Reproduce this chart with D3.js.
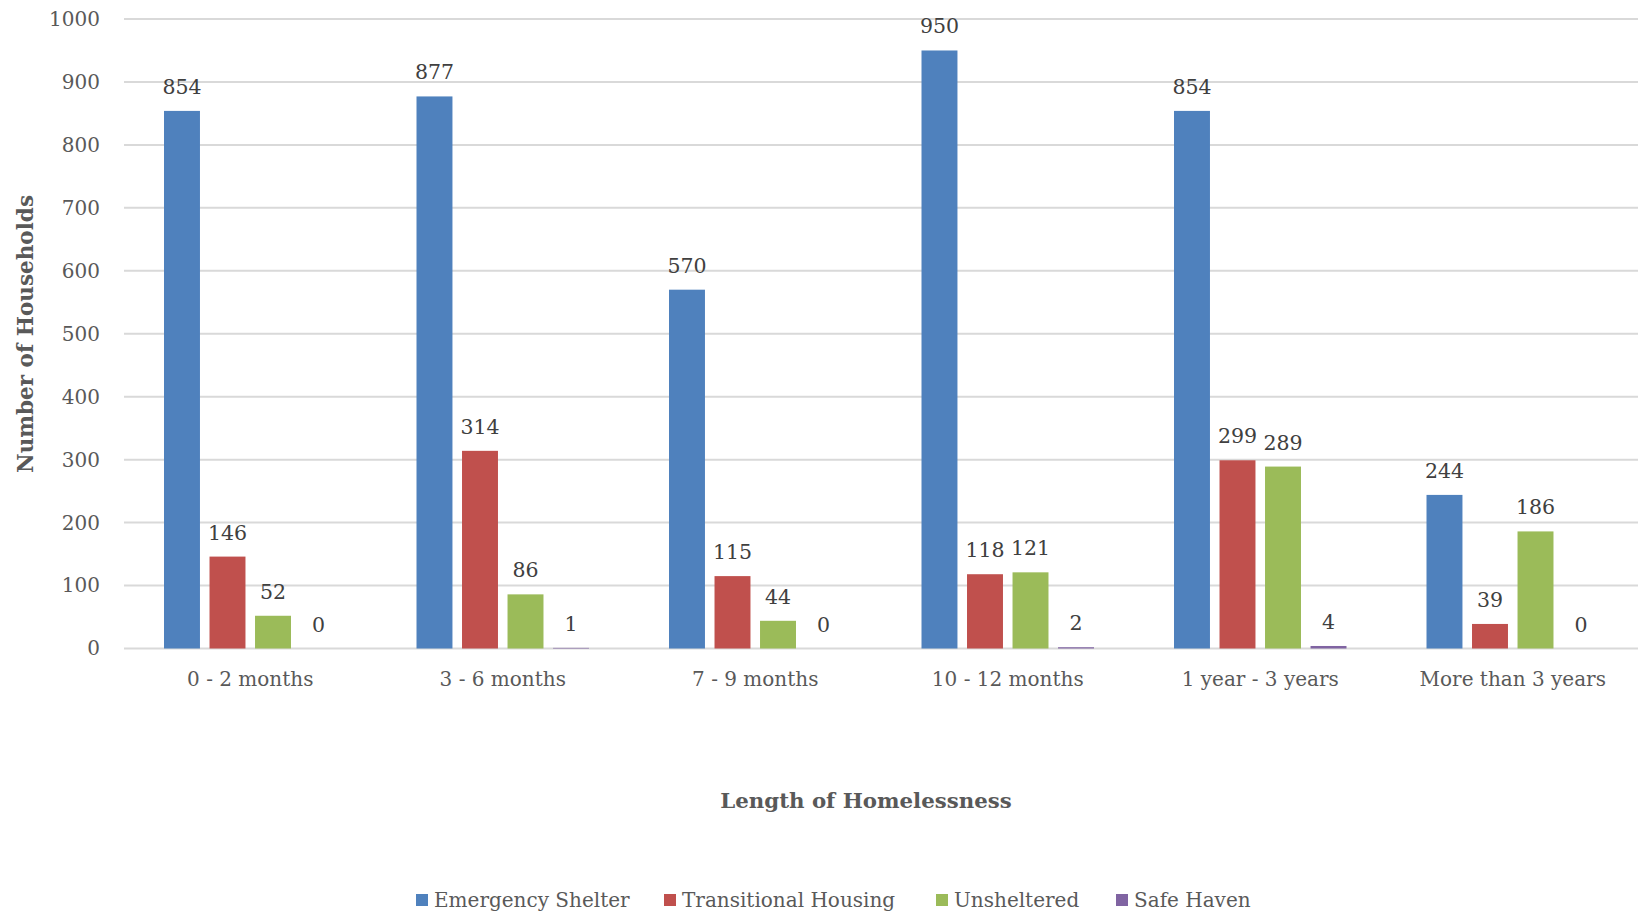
<!DOCTYPE html>
<html><head><meta charset="utf-8">
<script src="https://cdn.jsdelivr.net/npm/d3@7"></script>
<style>body{margin:0;background:#fff}svg{display:block}</style>
</head><body><svg id="c" width="1638" height="915"></svg>
<script>
const categories = ["0 - 2 months","3 - 6 months","7 - 9 months","10 - 12 months","1 year - 3 years","More than 3 years"];
const seriesNames = ["Emergency Shelter","Transitional Housing","Unsheltered","Safe Haven"];
const emergencyShelter = [854,877,570,950,854,244];
const transitionalHousing = [146,314,115,118,299,39];
const unsheltered = [52,86,44,121,289,186];
const safeHaven = [0,1,0,2,4,0];
const yTicks = [0,100,200,300,400,500,600,700,800,900,1000];
const colors = ["#4F81BD","#C0504D","#9BBB59","#8064A2"];
const seriesValues = [emergencyShelter,transitionalHousing,unsheltered,safeHaven];

const svg = d3.select("#c");
const font = "DejaVu Serif";
const x0 = d3.scaleBand().domain(categories).range([124,1639]).paddingInner(0.279).paddingOuter(0.1395);
const x1 = d3.scaleBand().domain(seriesNames).range([0,x0.bandwidth()]).paddingInner(0.21).paddingOuter(0.105);
const y = d3.scaleLinear().domain([0,1000]).range([648.5,19]);

// gridlines
svg.append("g").selectAll("line").data(yTicks).join("line")
  .attr("x1",124).attr("x2",1639).attr("y1",d=>y(d)).attr("y2",d=>y(d))
  .attr("stroke","#D9D9D9").attr("stroke-width",2);

// y axis labels
const yAxis = svg.append("g").attr("transform","translate(100,0)")
  .call(d3.axisLeft(y).tickValues(yTicks).tickSize(0).tickPadding(0).tickFormat(d3.format("d")));
yAxis.select(".domain").remove();
yAxis.selectAll("text").attr("font-family",font).attr("font-size",20).attr("fill","#595959");

// x axis labels
const xAxis = svg.append("g").attr("transform","translate(0,648.5)")
  .call(d3.axisBottom(x0).tickSize(0).tickPadding(23));
xAxis.select(".domain").remove();
xAxis.selectAll("text").attr("font-family",font).attr("font-size",20).attr("fill","#595959");

// bars
const rows = [];
categories.forEach((c,i)=>seriesNames.forEach((s,j)=>rows.push({c,s,j,v:seriesValues[j][i]})));
const g = svg.append("g");
g.selectAll("rect").data(rows).join("rect")
  .attr("x",d=>x0(d.c)+x1(d.s)).attr("width",x1.bandwidth())
  .attr("y",d=>y(d.v)).attr("height",d=>y(0)-y(d.v))
  .attr("fill",d=>colors[d.j]);
g.selectAll("text").data(rows).join("text")
  .attr("x",d=>x0(d.c)+x1(d.s)+x1.bandwidth()/2).attr("y",d=>y(d.v)-17)
  .attr("text-anchor","middle").attr("font-family",font).attr("font-size",20.5).attr("fill","#404040")
  .text(d=>d.v);

// axis titles
svg.append("text").attr("transform","translate(33,334) rotate(-90)").attr("text-anchor","middle")
  .attr("font-family",font).attr("font-weight","bold").attr("font-size",21.5).attr("fill","#595959")
  .text("Number of Households");
svg.append("text").attr("x",866).attr("y",808).attr("text-anchor","middle")
  .attr("font-family",font).attr("font-weight","bold").attr("font-size",21.3).attr("fill","#595959")
  .text("Length of Homelessness");

// legend
const legendX = [416,664,936,1116];
const lg = svg.append("g").selectAll("g").data(seriesNames).join("g")
  .attr("transform",(d,i)=>`translate(${legendX[i]},0)`);
lg.append("rect").attr("x",0).attr("y",894).attr("width",12).attr("height",12).attr("fill",(d,i)=>colors[i]);
lg.append("text").attr("x",18).attr("y",907).attr("font-family",font).attr("font-size",20).attr("fill","#595959").text(d=>d);
</script></body></html>
